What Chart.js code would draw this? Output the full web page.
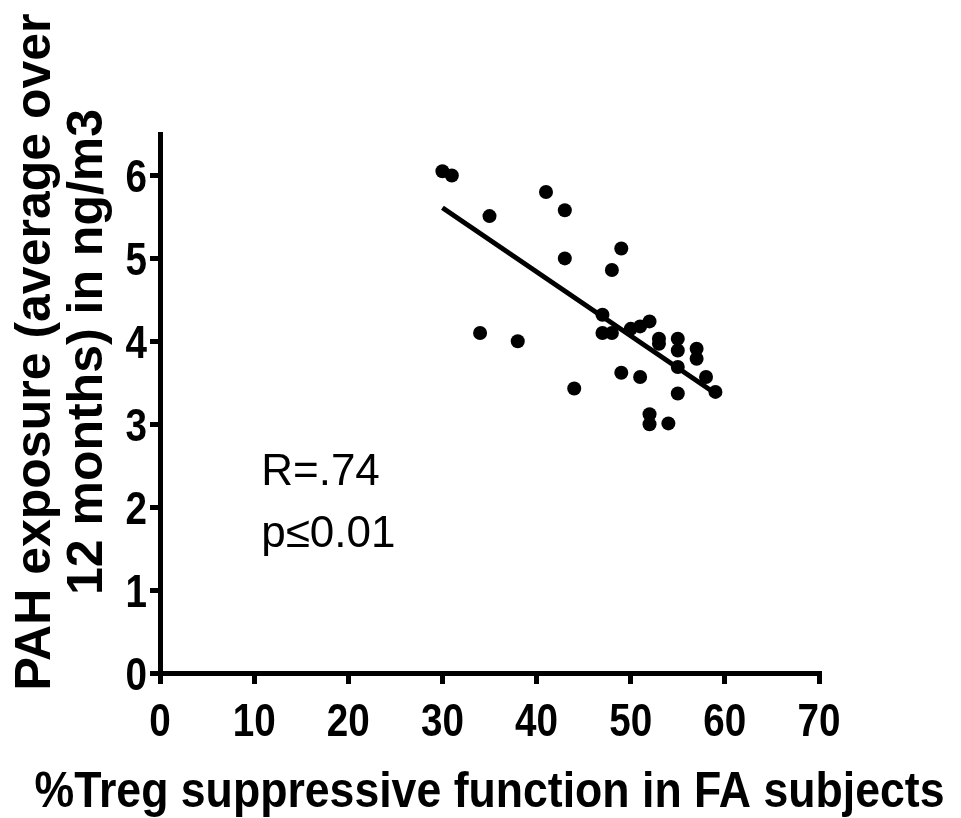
<!DOCTYPE html>
<html>
<head>
<meta charset="utf-8">
<script src="https://cdn.jsdelivr.net/npm/chart.js@4/dist/chart.umd.min.js"></script>
<style>
  html, body { margin: 0; padding: 0; background: #fff; }
  #wrap { width: 961px; height: 818px; }
</style>
</head>
<body>
<div id="wrap"><canvas id="scatterChart" width="961" height="818"></canvas></div>
<script>
// data
const tregPct = [30, 31, 41, 43, 35, 43, 49, 48, 47, 47, 48, 50, 51, 52, 34, 38,
                 53, 53, 55, 55, 57, 57, 55, 49, 51, 58, 59, 55, 44, 52, 52, 54];
const pahLevel = [6.05, 6.00, 5.80, 5.58, 5.51, 5.00, 5.12, 4.86, 4.32, 4.10, 4.10, 4.15, 4.18, 4.24, 4.10, 4.00,
                  4.03, 3.97, 4.03, 3.89, 3.91, 3.79, 3.69, 3.62, 3.57, 3.57, 3.39, 3.37, 3.43, 3.12, 3.00, 3.01];

// regression line end points
const fitX = [30, 59];
const fitY = [5.61, 3.37];

const xTicks = [0, 10, 20, 30, 40, 50, 60, 70];
const yTicks = [0, 1, 2, 3, 4, 5, 6];

const xTitle = '%Treg suppressive function in FA subjects';
const yTitle = ['PAH exposure (average over', '12 months) in ng/m3'];
const statsText = ['R=.74', 'p\u22640.01'];

const SANS = '"Liberation Sans", Arial, Helvetica, sans-serif';

// draw text squeezed horizontally (no condensed face installed)
function narrowText(ctx, text, x, y, squeeze, align) {
    ctx.save();
    ctx.translate(x, y);
    ctx.scale(squeeze, 1);
    ctx.textAlign = align;
    ctx.fillText(text, 0, 0);
    ctx.restore();
}

// tick labels, axis titles, R / p text
const textPlugin = {
    id: 'textPlugin',
    afterDraw(chart) {
        const ctx = chart.ctx;
        const xs = chart.scales.x;
        const ys = chart.scales.y;
        const area = chart.chartArea;

        ctx.save();
        ctx.fillStyle = '#000';
        ctx.textBaseline = 'alphabetic';

        // tick labels
        ctx.font = 'bold 46px ' + SANS;
        xTicks.forEach(v => {
            narrowText(ctx, String(v), xs.getPixelForValue(v), area.bottom + 63, 0.84, 'center');
        });
        yTicks.forEach(v => {
            narrowText(ctx, String(v), area.left - 13, ys.getPixelForValue(v) + 16.5, 0.84, 'right');
        });

        // x title, stretched to the width seen in the figure
        ctx.font = 'bold 50px ' + SANS;
        const w = ctx.measureText(xTitle).width;
        narrowText(ctx, xTitle, (area.left + area.right) / 2, 807, 910 / w, 'center');

        // rotated y title (two lines)
        ctx.font = 'bold 50px ' + SANS;
        ctx.textAlign = 'center';
        [50, 102].forEach((bx, i) => {
            ctx.save();
            ctx.translate(bx, 352);
            ctx.rotate(-Math.PI / 2);
            ctx.fillText(yTitle[i], 0, 0);
            ctx.restore();
        });

        // correlation text
        ctx.font = '44px ' + SANS;
        ctx.textAlign = 'left';
        const left = xs.getPixelForValue(10.75);
        ctx.fillText(statsText[0], left, ys.getPixelForValue(2.27));
        ctx.fillText(statsText[1], left, ys.getPixelForValue(1.52));
        ctx.restore();
    }
};

const ctx = document.getElementById('scatterChart').getContext('2d');
const chart = new Chart(ctx, {
    type: 'scatter',
    data: {
        datasets: [{
            label: 'subjects',
            data: tregPct.map((x, i) => ({ x: x, y: pahLevel[i] })),
            backgroundColor: '#000',
            borderWidth: 0,
            pointRadius: 7,
            pointHoverRadius: 7
        }, {
            type: 'line',
            label: 'fit',
            data: fitX.map((x, i) => ({ x: x, y: fitY[i] })),
            borderColor: '#000',
            borderWidth: 5,
            pointRadius: 0,
            fill: false
        }]
    },
    options: {
        responsive: false,
        animation: false,
        events: [],
        layout: {
            padding: { top: 134, right: 142, left: 0, bottom: 0 }
        },
        plugins: {
            legend: { display: false },
            tooltip: { enabled: false }
        },
        scales: {
            x: {
                type: 'linear',
                min: 0,
                max: 70,
                afterFit: (scale) => { scale.height = 145; },
                afterBuildTicks: (scale) => { scale.ticks = xTicks.map(v => ({ value: v })); },
                border: { display: true, color: '#000', width: 5 },
                grid: {
                    drawOnChartArea: false,
                    drawTicks: true,
                    tickLength: 11,
                    lineWidth: 5,
                    color: '#000'
                },
                ticks: { display: false }
            },
            y: {
                type: 'linear',
                min: 0,
                max: 6.5,
                afterFit: (scale) => { scale.width = 160; },
                afterBuildTicks: (scale) => { scale.ticks = yTicks.map(v => ({ value: v })); },
                border: { display: true, color: '#000', width: 5 },
                grid: {
                    drawOnChartArea: false,
                    drawTicks: true,
                    tickLength: 10,
                    lineWidth: 5,
                    color: '#000'
                },
                ticks: { display: false }
            }
        }
    },
    plugins: [textPlugin]
});
</script>
</body>
</html>
